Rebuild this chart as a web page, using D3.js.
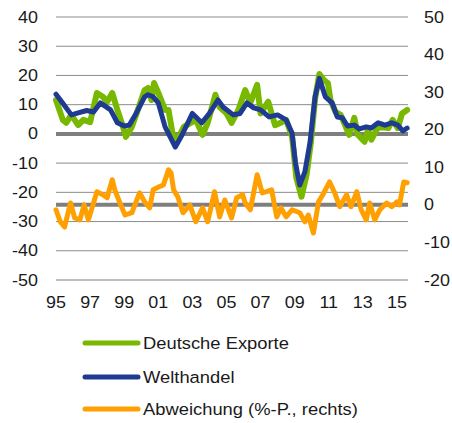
<!DOCTYPE html>
<html>
<head>
<meta charset="utf-8">
<script src="https://cdn.jsdelivr.net/npm/d3@7"></script>
<style>
  body { margin: 0; background: #fff; }
  text { font-family: "Liberation Sans", Arial, sans-serif; fill: #1a1a1a; }
</style>
</head>
<body>
<div id="chart"></div>
<script>
// Deutsche Exporte, % yoy (left axis) - [year, value]
const exporte = [
  [1995.0, 11.6], [1995.4, 4.8], [1995.6, 3.8], [1995.9, 6.5], [1996.3, 3.0], [1996.6, 4.8],
  [1997.0, 4.0], [1997.4, 14.0], [1997.75, 12.7], [1998.0, 11.0], [1998.3, 14.0], [1998.6, 8.2],
  [1998.9, 3.0], [1999.1, -1.0], [1999.45, 2.4], [1999.8, 8.2], [2000.2, 15.0], [2000.4, 15.7],
  [2000.6, 11.6], [2000.75, 17.4], [2001.05, 13.4], [2001.4, 8.2], [2001.6, 8.2], [2001.9, -2.0],
  [2002.0, -3.8], [2002.2, -1.0], [2002.5, 2.4], [2003.2, 4.8], [2003.6, -0.3], [2003.9, 3.8],
  [2004.35, 13.4], [2004.6, 9.2], [2005.0, 7.0], [2005.3, 3.8], [2005.7, 8.2], [2006.1, 15.0],
  [2006.4, 10.6], [2006.8, 16.8], [2007.0, 7.0], [2007.45, 11.0], [2007.85, 3.0], [2008.25, 4.0],
  [2008.5, 4.8], [2008.85, -1.0], [2009.1, -15.0], [2009.4, -21.5], [2009.7, -14.0], [2009.95, -3.0],
  [2010.2, 12.0], [2010.45, 20.5], [2010.7, 18.5], [2010.95, 17.4], [2011.1, 11.6], [2011.4, 7.5],
  [2011.7, 6.5], [2012.2, -0.3], [2012.5, 5.5], [2012.7, -0.3], [2013.1, -2.7], [2013.3, 1.4],
  [2013.5, -2.0], [2013.9, 2.4], [2014.5, 2.0], [2014.75, 4.8], [2015.05, 2.0], [2015.3, 7.0],
  [2015.6, 8.2]
];

// Welthandel, % yoy (left axis)
const welthandel = [
  [1995.0, 13.6], [1995.4, 10.5], [1995.9, 6.5], [1996.2, 7.0], [1996.8, 8.0], [1997.2, 7.5],
  [1997.6, 10.6], [1998.2, 8.2], [1998.6, 3.8], [1999.0, 2.7], [1999.3, 3.0], [1999.7, 7.0],
  [2000.2, 12.7], [2000.4, 13.4], [2000.7, 12.7], [2001.0, 10.6], [2001.4, 2.4], [2002.0, -4.5],
  [2002.4, -0.3], [2003.0, 7.0], [2003.55, 3.8], [2004.0, 7.0], [2004.5, 11.6], [2004.8, 9.2],
  [2005.4, 6.5], [2005.8, 7.0], [2006.2, 10.6], [2006.6, 8.9], [2007.0, 8.2], [2007.5, 5.8],
  [2008.0, 6.5], [2008.5, 4.8], [2008.85, 0.3], [2009.05, -10.0], [2009.3, -17.5], [2009.6, -13.0],
  [2009.9, -3.0], [2010.2, 12.7], [2010.45, 19.0], [2010.8, 12.7], [2011.2, 10.6], [2011.5, 5.8],
  [2011.8, 5.5], [2012.1, 2.7], [2012.5, 3.0], [2012.8, 1.7], [2013.2, 2.4], [2013.5, 2.0],
  [2013.9, 3.8], [2014.3, 3.0], [2014.7, 3.8], [2015.05, 3.0], [2015.35, 1.0], [2015.6, 2.0]
];

// Abweichung, %-Punkte (right axis)
const abweichung = [
  [1995.0, -1.3], [1995.25, -4.5], [1995.5, -5.9], [1995.85, 0.5], [1996.1, -3.5], [1996.4, -4.0],
  [1996.65, 0.0], [1996.9, -4.0], [1997.4, 3.5], [1997.75, 2.7], [1998.0, 1.9], [1998.3, 6.7],
  [1998.45, 4.0], [1998.75, 0.5], [1999.05, -2.7], [1999.45, -2.1], [1999.9, 3.2], [2000.2, 0.8],
  [2000.5, -0.8], [2000.7, 4.0], [2001.05, 4.8], [2001.3, 5.3], [2001.6, 9.3], [2001.75, 8.5],
  [2001.9, 4.0], [2002.15, 2.1], [2002.45, -2.1], [2002.85, 0.0], [2003.2, -4.5], [2003.6, -0.8],
  [2003.9, -4.5], [2004.3, 3.5], [2004.6, -3.2], [2004.9, 1.3], [2005.3, -3.5], [2005.6, 1.9],
  [2005.95, 2.7], [2006.1, 0.5], [2006.4, -1.3], [2006.8, 8.0], [2007.1, 3.2], [2007.35, 3.5],
  [2007.65, 4.0], [2007.95, -3.2], [2008.2, -0.8], [2008.5, -3.2], [2008.85, -1.3], [2009.3, -2.1],
  [2009.6, -4.5], [2009.8, -2.7], [2010.1, -7.5], [2010.4, 0.8], [2010.65, 2.7], [2011.05, 6.1],
  [2011.35, 3.2], [2011.65, -0.5], [2012.05, 2.7], [2012.3, -0.5], [2012.65, 3.5], [2012.9, -1.3],
  [2013.2, -4.0], [2013.4, 0.5], [2013.7, -4.0], [2014.0, -1.3], [2014.4, 0.5], [2014.7, -0.5],
  [2015.0, 0.8], [2015.15, 0.0], [2015.4, 6.1], [2015.6, 5.9]
];

const leftTicks = [40, 30, 20, 10, 0, -10, -20, -30, -40, -50];
const rightTicks = [50, 40, 30, 20, 10, 0, -10, -20];
const yearTicks = [1995, 1997, 1999, 2001, 2003, 2005, 2007, 2009, 2011, 2013, 2015];

const series = [
  { name: 'Deutsche Exporte', data: exporte, axis: 'left', color: '#78b800', width: 6 },
  { name: 'Welthandel', data: welthandel, axis: 'left', color: '#1f3a93', width: 5 },
  { name: 'Abweichung (%-P., rechts)', data: abweichung, axis: 'right', color: '#ffa000', width: 5 }
];

const width = 452, height = 423;
const plot = { left: 56, right: 408, top: 17, bottom: 280 };
const stretch = 1.12; // reference text is a little wider than Liberation Sans

const svg = d3.select('#chart').append('svg')
    .attr('width', width)
    .attr('height', height);

const x = d3.scaleLinear()
    .domain([1995, 2015.65])
    .range([plot.left, plot.right]);

const yLeft = d3.scaleLinear()
    .domain([-50, 40])
    .range([plot.bottom, plot.top]);

const yRight = d3.scaleLinear()
    .domain([-20, 50])
    .range([plot.bottom, plot.top]);

// Gridlines
svg.append('g')
    .selectAll('line')
    .data(leftTicks.filter(d => d !== 0))
    .join('line')
    .attr('x1', plot.left)
    .attr('x2', plot.right)
    .attr('y1', d => yLeft(d))
    .attr('y2', d => yLeft(d))
    .attr('stroke', d => d === -50 ? '#bdbdbd' : '#8c8c8c')
    .attr('stroke-width', d => d === -50 ? 2 : 1);

// Zero lines (left and right axis)
svg.append('line')
    .attr('x1', plot.left).attr('x2', plot.right)
    .attr('y1', yLeft(0)).attr('y2', yLeft(0))
    .attr('stroke', '#7f7f7f').attr('stroke-width', 4);

svg.append('line')
    .attr('x1', plot.left).attr('x2', plot.right)
    .attr('y1', yRight(0)).attr('y2', yRight(0))
    .attr('stroke', '#7f7f7f').attr('stroke-width', 4);

// Axis labels
svg.append('g')
    .selectAll('text')
    .data(leftTicks)
    .join('text')
    .attr('transform', d => `translate(38,${yLeft(d)}) scale(${stretch},1)`)
    .attr('dy', '0.35em')
    .attr('text-anchor', 'end')
    .attr('font-size', '16px')
    .text(d => d);

svg.append('g')
    .selectAll('text')
    .data(rightTicks)
    .join('text')
    .attr('transform', d => `translate(424,${yRight(d)}) scale(${stretch},1)`)
    .attr('dy', '0.35em')
    .attr('text-anchor', 'start')
    .attr('font-size', '16px')
    .text(d => d);

svg.append('g')
    .selectAll('text')
    .data(yearTicks)
    .join('text')
    .attr('transform', d => `translate(${x(d)},308) scale(${stretch},1)`)
    .attr('text-anchor', 'middle')
    .attr('font-size', '16px')
    .text(d => String(d).slice(2));

// Lines
series.forEach(s => {
    const y = s.axis === 'left' ? yLeft : yRight;
    const line = d3.line()
        .x(d => x(d[0]))
        .y(d => y(d[1]))
        .curve(d3.curveLinear);
    svg.append('path')
        .datum(s.data)
        .attr('d', line)
        .attr('fill', 'none')
        .attr('stroke', s.color)
        .attr('stroke-width', s.width)
        .attr('stroke-linejoin', 'round')
        .attr('stroke-linecap', 'round');
});

// Legend
const legendY = [343, 377, 409];
const legend = svg.append('g')
    .selectAll('g')
    .data(series)
    .join('g')
    .attr('transform', (d, i) => `translate(0,${legendY[i]})`);

legend.append('line')
    .attr('x1', 85).attr('x2', 138)
    .attr('stroke', d => d.color)
    .attr('stroke-width', 5)
    .attr('stroke-linecap', 'round');

legend.append('text')
    .attr('transform', `translate(143,0) scale(1.08,1)`)
    .attr('dy', '0.35em')
    .attr('font-size', '17px')
    .text(d => d.name);
</script>
</body>
</html>
